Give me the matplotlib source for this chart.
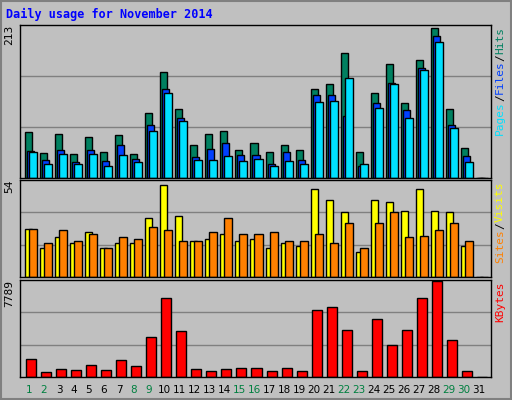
import numpy as np
import matplotlib.pyplot as plt
from matplotlib.patches import Rectangle

days = list(range(1, 32))
weekend = [1, 2, 8, 9, 15, 16, 22, 23, 29, 30]

hits = [64, 35, 61, 33, 57, 36, 60, 33, 91, 147, 96, 46, 61, 66, 39, 49, 36, 46, 39, 124,
        131, 174, 36, 118, 159, 105, 164, 209, 96, 42, 0]
files = [38, 25, 39, 22, 39, 23, 46, 26, 74, 124, 84, 29, 41, 49, 32, 32, 19, 36, 25, 116,
         116, 87, 17, 104, 132, 94, 153, 197, 74, 30, 0]
pages = [36, 20, 33, 20, 33, 17, 32, 22, 66, 119, 80, 25, 25, 30, 23, 26, 17, 23, 19, 106,
         107, 139, 20, 98, 131, 84, 150, 190, 70, 22, 0]
visits = [27, 16, 22, 19, 25, 16, 19, 19, 33, 51, 34, 20, 21, 24, 20, 21, 16, 19, 17, 49,
          43, 36, 14, 43, 42, 37, 49, 37, 36, 17, 0]
sites = [27, 19, 26, 20, 24, 16, 22, 21, 28, 26, 20, 20, 25, 33, 24, 24, 25, 20, 20, 24,
         19, 30, 16, 30, 36, 22, 23, 26, 30, 20, 0]
kbytes = [1456, 364, 616, 532, 952, 532, 1372, 868, 3220, 6328, 3724, 616, 448, 616, 700,
          700, 448, 700, 448, 5404, 5656, 3808, 448, 4648, 2548, 3808, 6328, 7672, 2968, 448, 0]

BG = '#c0c0c0'
fig = plt.figure(figsize=(5.12, 4.0), dpi=100, facecolor=BG)
fig.patches.append(Rectangle((0.002, 0.002), 0.996, 0.996, transform=fig.transFigure,
                             fill=False, edgecolor='#808080', lw=1.5))

W, H = 512, 400
def px_axes(top, bottom):
    return fig.add_axes([20 / W, 1 - bottom / H, 471 / W, (bottom - top) / H])

ax1 = px_axes(25, 178)
ax2 = px_axes(180, 277)
ax3 = px_axes(280, 377)

d = np.arange(31)
u = 1 / 15
ax1.bar(d, hits, width=7 * u, align='edge', color='#008060', edgecolor='black', lw=1)
ax1.bar(d + 2 * u, files, width=7 * u, align='edge', color='#0040ff', edgecolor='black', lw=1)
ax1.bar(d + 4 * u, pages, width=8 * u, align='edge', color='#00e0ff', edgecolor='black', lw=1)
ax2.bar(d, visits, width=7 * u, align='edge', color='#ffff00', edgecolor='black', lw=1)
ax2.bar(d + 4 * u, sites, width=8 * u, align='edge', color='#ff8000', edgecolor='black', lw=1)
ax3.bar(d + 1 * u, kbytes, width=10 * u, align='edge', color='#ff0000', edgecolor='black', lw=1)

for ax, top, lab in [(ax1, 213, '213'), (ax2, 54, '54'), (ax3, 7789, '7789')]:
    ax.set_facecolor(BG)
    ax.set_xlim(-5 * u, 31.0)
    ax.set_ylim(0, top)
    for g in (top / 3, 2 * top / 3):
        ax.axhline(g, color='#808080', lw=1, zorder=0)
    ax.set_xticks([])
    ax.set_yticks([])
    for s in ax.spines.values():
        s.set_color('black')
        s.set_linewidth(1)
    ax.text(-0.012, 1.0, lab, transform=ax.transAxes, rotation=90, ha='right', va='top',
            family='DejaVu Sans Mono', fontsize=8)

renderer = fig.canvas.get_renderer()

def right_label(ax, parts):
    # rotated words stacked downward from the top of the panel (last word at top)
    pos = ax.get_position()
    y = pos.y1 - 2 / H
    for txt, col in reversed(parts):
        t = fig.text(pos.x1 + 4 / W, y, txt, rotation=90, ha='left', va='top',
                     color=col, family='DejaVu Sans Mono', fontsize=8)
        bb = t.get_window_extent(renderer)
        y -= bb.height / H

right_label(ax1, [('Pages', '#00e0ff'), ('/', 'black'), ('Files', '#0040ff'), ('/', 'black'), ('Hits', '#008060')])
right_label(ax2, [('Sites', '#ff8000'), ('/', 'black'), ('Visits', '#ffff00')])
right_label(ax3, [('KBytes', '#ff0000')])

for i, day in enumerate(days):
    fig.text((20 + 5 + 15 * i + 4) / W, 1 - 390 / H, str(day), ha='center', va='center',
             fontsize=7.5, color='#008040' if day in weekend else 'black')

fig.text(6 / W, 1 - 14 / H, 'Daily usage for November 2014', color='#0000ff',
         family='DejaVu Sans Mono', fontweight='bold', fontsize=8.5, va='center')

fig.savefig('out.png', dpi=100, facecolor=BG)
